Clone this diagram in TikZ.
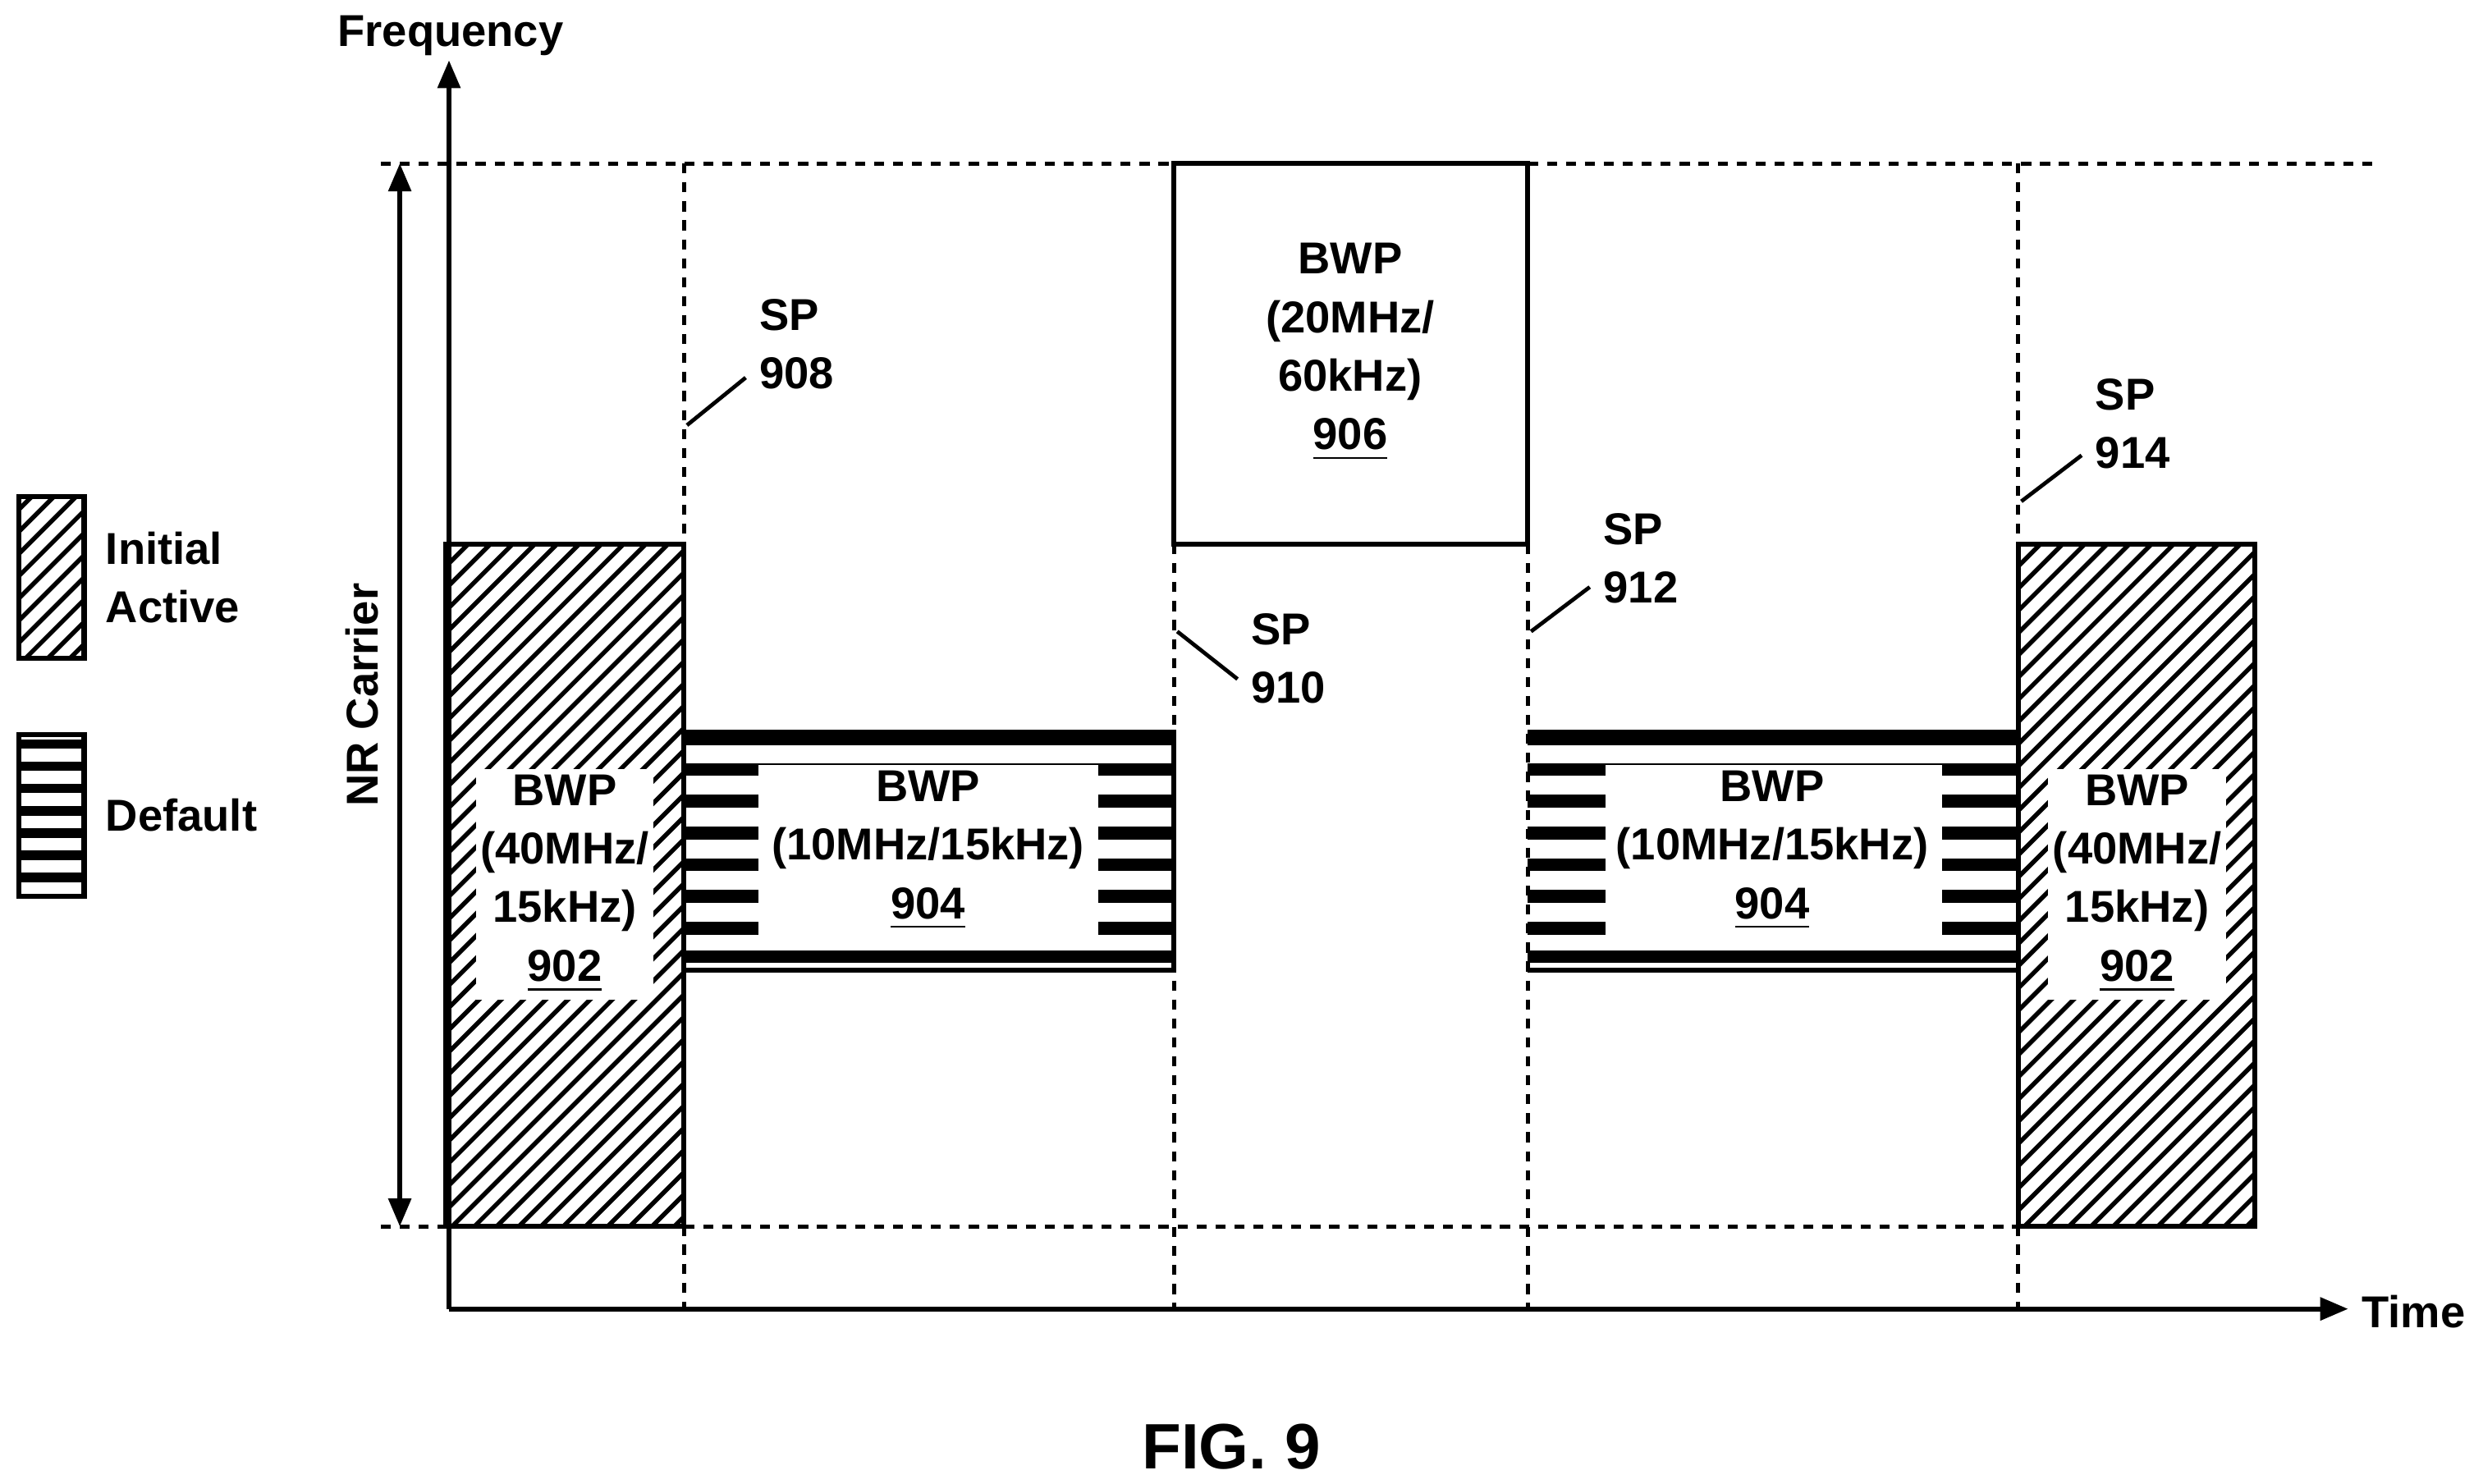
\documentclass[tikz,border=0pt]{standalone}
\usepackage{fontspec}
\setmainfont{Liberation Sans}
\usetikzlibrary{arrows.meta}
\begin{document}
\begin{tikzpicture}[x=0.01cm,y=-0.01cm,
  lbl/.style={font=\fontsize{8}{10.5}\selectfont\bfseries,align=center,inner sep=0pt},
  lbll/.style={font=\fontsize{8}{10.5}\selectfont\bfseries,align=left,inner sep=0pt},
  dsh/.style={line width=0.75pt,dash pattern=on 1.8pt off 1.6pt},
  ax/.style={line width=0.85pt,-{Triangle[length=5pt,width=4pt]}},
  box/.style={line width=0.9pt},
  ldr/.style={line width=0.7pt}]
\useasboundingbox (0,0) rectangle (1565,935);
% hatched boxes
\newcommand{\hatchbox}[4]{%
 \begin{scope}\clip (#1,#2) rectangle (#3,#4);
 \foreach \k in {0,...,60}{\draw[line width=0.8pt] ({#1-500+\k*14},#4) -- ++(500,-500);}
 \end{scope}\draw[box] (#1,#2) rectangle (#3,#4);}
\hatchbox{281}{343}{431}{773}
\hatchbox{1272}{343}{1421}{773}
\hatchbox{12}{313}{53}{415}
% striped boxes
\newcommand{\stripebox}[2]{%
 \fill (#1,460) rectangle (#2,470);
 \foreach \yy in {481,501,521,541,561,581}{\fill (#1,\yy) rectangle (#2,\yy+8);}
 \fill (#1,599) rectangle (#2,607);
 \fill (#1,610) rectangle (#2,613);
 \draw[box] (#2,460) -- (#2,613);}
\stripebox{431}{740}
\stripebox{963}{1272}
\fill[white] (478,482) rectangle (692,598);
\fill[white] (1012,482) rectangle (1224,598);
% legend striped
\foreach \yy in {463,477,491,505,519,533,547}{\fill (12,\yy+3) rectangle (53,\yy+9);}
\draw[box] (12,463) rectangle (53,565);
% 902 label white
\fill[white] (300,485) rectangle (412,630);
\fill[white] (1291,485) rectangle (1403,630);
% 906 box
\draw[box,fill=white] (740,103) rectangle (963,343);
% dashed lines
\draw[dsh] (240,103) -- (740,103);
\draw[dsh] (963,103) -- (1495,103);
\draw[dsh] (240,773) -- (1272,773);
\foreach \xx/\ya in {431/103,740/343,963/343,1272/103}{\draw[dsh] (\xx,\ya) -- (\xx,825);}
% axes
\coordinate (o) at (283,825);
\coordinate (ytop) at (283,38);
\coordinate (xend) at (1480,825);
\draw[ax] (o) -- (ytop);
\draw[ax] (o) -- (xend);
\node[lbl,anchor=south] (freq) at (284,36) {Frequency};
\node[lbl,anchor=west] (time) at (1488,827) {Time};
% NR carrier
\coordinate (nrt) at (252,103); \coordinate (nrb) at (252,773);
\draw[line width=0.8pt,{Triangle[length=5pt,width=4pt]}-{Triangle[length=5pt,width=4pt]}] (nrt) -- (nrb);
\node[lbl,rotate=90] (nr) at (228,438) {NR Carrier};
% legend text
\node[lbll,anchor=west] (ia) at (66,364) {Initial\\Active};
\node[lbll,anchor=west] (df) at (66,514) {Default};
% box texts
\node[lbl] (t906) at (851,222) {BWP\\(20MHz/\\60kHz)\\\underline{906}};
\node[lbl] (t904a) at (585,536) {BWP\\(10MHz/15kHz)\\\underline{904}};
\node[lbl] (t904b) at (1117,536) {BWP\\(10MHz/15kHz)\\\underline{904}};
\node[lbl] (t902a) at (356,557) {BWP\\(40MHz/\\15kHz)\\\underline{902}};
\node[lbl] (t902b) at (1347,557) {BWP\\(40MHz/\\15kHz)\\\underline{902}};
% SP labels
\node[lbll,anchor=west] (sp908) at (478,217) {SP\\908};
\node[lbll,anchor=west] (sp910) at (788,415) {SP\\910};
\node[lbll,anchor=west] (sp912) at (1010,352) {SP\\912};
\node[lbll,anchor=west] (sp914) at (1320,267) {SP\\914};
\draw[ldr] (433,268) -- (470,238);
\draw[ldr] (742,398) -- (780,428);
\draw[ldr] (965,398) -- (1002,370);
\draw[ldr] (1274,316) -- (1312,287);
\node[font=\fontsize{11.5}{13}\selectfont\bfseries,inner sep=0pt] (fig) at (776,912) {FIG. 9};
\end{tikzpicture}
\end{document}
